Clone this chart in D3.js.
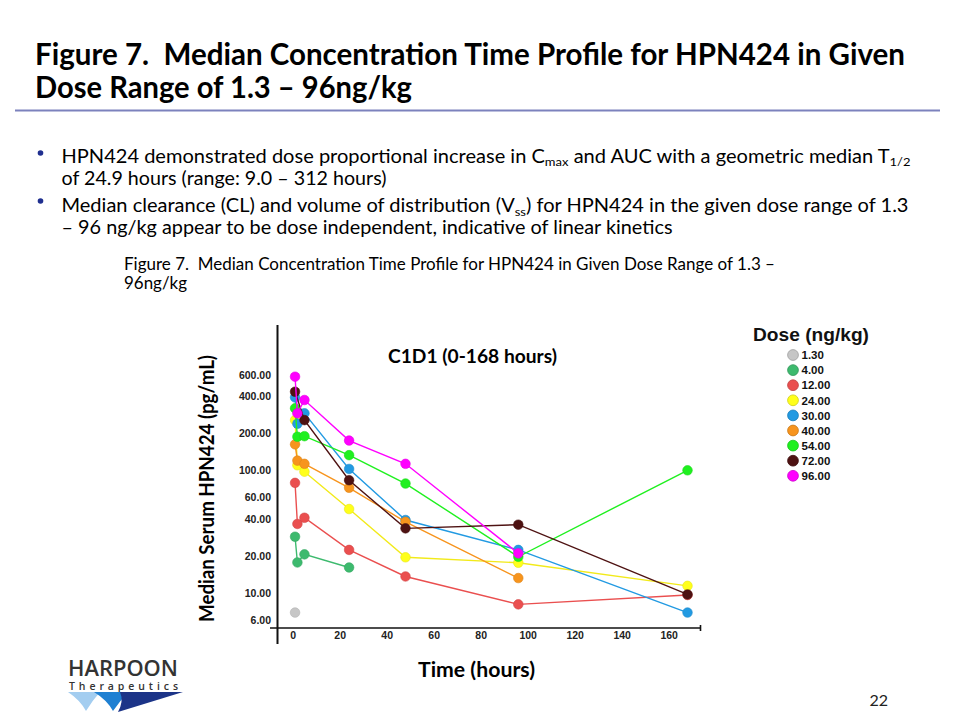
<!DOCTYPE html>
<html>
<head>
<meta charset="utf-8">
<script src="https://cdn.jsdelivr.net/npm/d3@7"></script>
<style>
  html, body { margin: 0; padding: 0; background: #ffffff; }
  svg { display: block; }
</style>
</head>
<body>
<svg id="chart" width="960" height="720"></svg>
<script>
// ---------------- DATA ----------------
const doses = ["1.30", "4.00", "12.00", "24.00", "30.00", "40.00", "54.00", "72.00", "96.00"];
const palette = ["#c6c6c6", "#3dba6e", "#ea4f4f", "#ffff1a", "#229ae2", "#f7941d", "#1ff01f", "#4e1212", "#ff00ff"];
const times = [1, 2, 5, 24, 48, 96, 168];
const conc_1_30  = [6.9,  null, null, null,  null, null, null];
const conc_4_00  = [28.7, 17.7, 20.6, 16.1,  null, null, null];
const conc_12_00 = [79,   36.5, 41,   22.4,  13.6, 8.05, 9.6];
const conc_24_00 = [257,  110,  97.5, 48.3,  19.5, 17.6, 11.4];
const conc_30_00 = [394,  240,  292,  102.6, 39.3, 22.4, 6.9];
const conc_40_00 = [163,  120,  113,  72,    38,   13.2, null];
const conc_54_00 = [321,  188,  190,  133,   78,   19.7, 100];
const conc_72_00 = [438,  null, 257,  83,    33.6, 36.0, 9.7];
const conc_96_00 = [581,  292,  375,  175,   113,  21,   null];
const seriesValues = [conc_1_30, conc_4_00, conc_12_00, conc_24_00, conc_30_00, conc_40_00, conc_54_00, conc_72_00, conc_96_00];
const yTicks = [6, 10, 20, 40, 60, 100, 200, 400, 600];
const xTicks = [0, 20, 40, 60, 80, 100, 120, 140, 160];

// ---------------- SVG ----------------
const svg = d3.select("#chart");
const CAL = "Lato, 'Open Sans', sans-serif";
const ARIAL = "'Liberation Sans', Arial, sans-serif";

// Title
const title = svg.append("g").attr("font-family", CAL).attr("font-weight", "bold").attr("fill", "#000");
title.append("text").attr("x", 35).attr("y", 65).attr("font-size", 30.5)
  .attr("textLength", 870).attr("lengthAdjust", "spacingAndGlyphs")
  .text("Figure 7.\u00A0 Median Concentration Time Profile for HPN424 in Given");
title.append("text").attr("x", 35).attr("y", 98).attr("font-size", 30.5)
  .attr("textLength", 377).attr("lengthAdjust", "spacingAndGlyphs")
  .text("Dose Range of 1.3 \u2013 96ng/kg");

svg.append("line").attr("x1", 15).attr("x2", 940).attr("y1", 110.5).attr("y2", 110.5)
  .attr("stroke", "#7c82bd").attr("stroke-width", 2);

// Bullets
const bul = svg.append("g").attr("font-family", CAL).attr("fill", "#000").attr("font-size", 18.5);
[153, 201].forEach(cy => bul.append("circle").attr("cx", 40.5).attr("cy", cy).attr("r", 2.8).attr("fill", "#1f2f8f"));

function bulletLine(y, parts, len) {
  const t = bul.append("text").attr("x", 61.5).attr("y", y)
    .attr("textLength", len).attr("lengthAdjust", "spacingAndGlyphs");
  let shift = 0;
  parts.forEach(p => {
    if (typeof p === "string") {
      const ts = t.append("tspan").text(p);
      if (shift) { ts.attr("dy", -shift); shift = 0; }
    } else {
      t.append("tspan").attr("dy", 3.5).attr("font-size", 12).text(p.sub);
      shift = 3.5;
    }
  });
}
bulletLine(162.5, ["HPN424 demonstrated dose proportional increase in C", {sub: "max"}, " and AUC with a geometric median T", {sub: "1/2"}], 849);
bulletLine(185, ["of 24.9 hours (range: 9.0 \u2013 312 hours)"], 325);
bulletLine(212, ["Median clearance (CL) and volume of distribution (V", {sub: "ss"}, ") for HPN424 in the given dose range of 1.3"], 847);
bulletLine(234, ["\u2013 96 ng/kg appear to be dose independent, indicative of linear kinetics"], 611);

// Caption
const cap = svg.append("g").attr("font-family", CAL).attr("fill", "#000").attr("font-size", 16.5);
cap.append("text").attr("x", 124).attr("y", 269.5).attr("textLength", 651).attr("lengthAdjust", "spacingAndGlyphs")
  .text("Figure 7.\u00A0 Median Concentration Time Profile for HPN424 in Given Dose Range of 1.3 \u2013");
cap.append("text").attr("x", 124).attr("y", 289).attr("textLength", 63).attr("lengthAdjust", "spacingAndGlyphs")
  .text("96ng/kg");

// ---------------- CHART ----------------
const x = d3.scaleLinear().domain([0, 160]).range([292.7, 668.7]);
const y = d3.scaleLog().domain([6, 600]).range([620, 375]);

// axes lines
svg.append("line").attr("x1", 277.5).attr("x2", 277.5).attr("y1", 325).attr("y2", 644)
  .attr("stroke", "#111").attr("stroke-width", 2);
svg.append("line").attr("x1", 270).attr("x2", 700.5).attr("y1", 628).attr("y2", 628)
  .attr("stroke", "#111").attr("stroke-width", 1.6);
svg.append("line").attr("x1", 700.5).attr("x2", 700.5).attr("y1", 625).attr("y2", 631)
  .attr("stroke", "#111").attr("stroke-width", 1.6);

const yAxis = svg.append("g").attr("transform", "translate(277,0)")
  .call(d3.axisLeft(y).tickValues(yTicks).tickFormat(d3.format(".2f")).tickSize(0).tickPadding(6));
yAxis.select(".domain").remove();
yAxis.selectAll("text").attr("font-family", ARIAL).attr("font-weight", "bold").attr("font-size", 10.5).attr("fill", "#222");

const xAxis = svg.append("g").attr("transform", "translate(0,628)")
  .call(d3.axisBottom(x).tickValues(xTicks).tickFormat(d3.format("d")).tickSize(0).tickPadding(4));
xAxis.select(".domain").remove();
xAxis.selectAll("text").attr("font-family", ARIAL).attr("font-weight", "bold").attr("font-size", 10.5).attr("fill", "#222");

// axis titles
svg.append("text").attr("transform", "translate(214,488.5) rotate(-90)")
  .attr("text-anchor", "middle").attr("font-family", CAL).attr("font-weight", "bold").attr("font-size", 21)
  .attr("textLength", 267).attr("lengthAdjust", "spacingAndGlyphs")
  .text("Median Serum HPN424 (pg/mL)");
svg.append("text").attr("x", 476.5).attr("y", 677).attr("text-anchor", "middle")
  .attr("font-family", CAL).attr("font-weight", "bold").attr("font-size", 20)
  .attr("textLength", 117).attr("lengthAdjust", "spacingAndGlyphs")
  .text("Time (hours)");
svg.append("text").attr("x", 472.5).attr("y", 363).attr("text-anchor", "middle")
  .attr("font-family", CAL).attr("font-weight", "bold").attr("font-size", 19)
  .attr("textLength", 169).attr("lengthAdjust", "spacingAndGlyphs")
  .text("C1D1 (0-168 hours)");

// series
const line = d3.line().x(d => x(d.t)).y(d => y(d.v));
doses.forEach((dose, i) => {
  const pts = times.map((t, j) => ({t: t, v: seriesValues[i][j]})).filter(d => d.v != null);
  const col = palette[i];
  const g = svg.append("g");
  g.append("path").datum(pts).attr("d", line).attr("fill", "none")
    .attr("stroke", i === 3 ? "#f2ea1a" : col).attr("stroke-width", 1.4);
  g.selectAll("circle").data(pts).enter().append("circle")
    .attr("cx", d => x(d.t)).attr("cy", d => y(d.v)).attr("r", 4.8)
    .attr("fill", col).attr("stroke", d3.color(col).darker(0.3)).attr("stroke-width", 0.6);
});

// legend
const leg = svg.append("g");
leg.append("text").attr("x", 753).attr("y", 341).attr("font-family", ARIAL).attr("font-weight", "bold")
  .attr("font-size", 19).attr("fill", "#111").attr("textLength", 116).attr("lengthAdjust", "spacingAndGlyphs")
  .text("Dose (ng/kg)");
doses.forEach((dose, i) => {
  const cy = 355 + i * 15.1;
  leg.append("circle").attr("cx", 793).attr("cy", cy).attr("r", 5.4)
    .attr("fill", palette[i]).attr("stroke", d3.color(palette[i]).darker(0.6)).attr("stroke-width", 0.8);
  leg.append("text").attr("x", 801.5).attr("y", cy + 4.2).attr("font-family", ARIAL).attr("font-weight", "bold")
    .attr("font-size", 11.5).attr("fill", "#111").text(dose);
});

// ---------------- FOOTER ----------------
const logo = svg.append("g");
logo.append("text").attr("x", 68).attr("y", 676).attr("font-family", "'Open Sans', sans-serif").attr("font-weight", "600")
  .attr("font-size", 22).attr("fill", "#333").attr("textLength", 110).attr("lengthAdjust", "spacingAndGlyphs").text("HARPOON");
logo.append("text").attr("x", 69).attr("y", 690).attr("font-family", "'Open Sans', sans-serif").attr("font-weight", "600")
  .attr("font-size", 10.5).attr("fill", "#333").attr("textLength", 109).attr("lengthAdjust", "spacing").text("Therapeutics");
logo.append("path").attr("d", "M68,692 L100,692 Q92,701 86,711 Q80,700 68,692 Z").attr("fill", "#a3cdf0");
logo.append("path").attr("d", "M94,692 L128,692 Q120,701 113,711 Q107,700 94,692 Z").attr("fill", "#1f80d2");
logo.append("path").attr("d", "M120,692 L183,692 L118,712 Q124,701 120,692 Z").attr("fill", "#1c3488");

svg.append("text").attr("x", 888).attr("y", 706).attr("text-anchor", "end").attr("font-family", CAL)
  .attr("font-size", 16).attr("fill", "#222").text("22");
</script>
</body>
</html>
